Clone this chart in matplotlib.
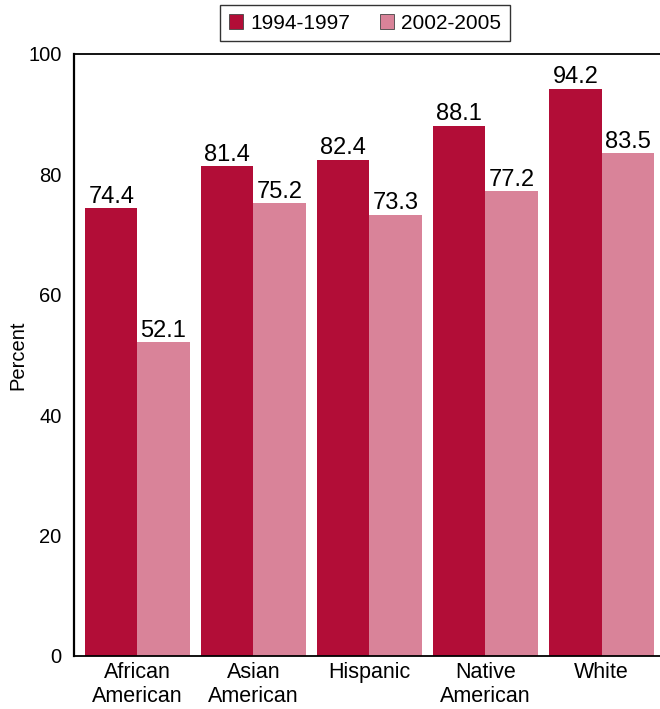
import matplotlib
matplotlib.use("Agg")
import matplotlib.pyplot as plt
import numpy as np

plt.rcParams['font.family'] = ['Liberation Sans', 'DejaVu Sans']

categories = ["African\nAmerican", "Asian\nAmerican", "Hispanic", "Native\nAmerican", "White"]
series_names = ["1994-1997", "2002-2005"]
values_1994 = [74.4, 81.4, 82.4, 88.1, 94.2]
values_2002 = [52.1, 75.2, 73.3, 77.2, 83.5]
yticks = [0, 20, 40, 60, 80, 100]

dark = "#B20D37"
light = "#D98399"

fig = plt.figure(figsize=(6.6, 7.09), dpi=100)
ax = fig.add_axes([0.112, 0.0748, 0.888, 0.8491])

x = np.arange(len(categories))
w = 0.45
b1 = ax.bar(x - w / 2, values_1994, w, color=dark, label=series_names[0])
b2 = ax.bar(x + w / 2, values_2002, w, color=light, label=series_names[1])

for bars, vals in ((b1, values_1994), (b2, values_2002)):
    for rect, v in zip(bars, vals):
        ax.text(rect.get_x() + rect.get_width() / 2, v + 0.9, f"{v:.1f}",
                ha="center", va="baseline", fontsize=17)

ax.set_xlim(-0.547, 4.504)
ax.set_ylim(0, 100)
ax.set_yticks(yticks)
ax.set_xticks(x)
ax.set_xticklabels(categories, fontsize=15.5, linespacing=1.22)
ax.tick_params(axis="y", length=0, labelsize=14.5, pad=9)
ax.tick_params(axis="x", length=0, pad=4)
ax.set_ylabel("Percent", fontsize=14.5)
ax.yaxis.set_label_coords(-0.08, 0.5)

ax.spines["right"].set_visible(False)
ax.spines["left"].set_linewidth(1.6)
ax.spines["top"].set_linewidth(1.3)
ax.spines["bottom"].set_linewidth(1.3)

leg = fig.legend(handles=[b1, b2], labels=series_names, loc="upper center",
                 bbox_to_anchor=(0.553, 0.993), borderaxespad=0, ncol=2,
                 fontsize=15, frameon=True, fancybox=False, edgecolor="black",
                 handlelength=0.7, handleheight=0.7, handletextpad=0.35,
                 columnspacing=1.4, borderpad=0.42)
leg.get_frame().set_linewidth(1.0)
for h in leg.legend_handles:
    h.set_edgecolor("#444444")
    h.set_linewidth(0.6)

fig.savefig("out.png", dpi=100)
